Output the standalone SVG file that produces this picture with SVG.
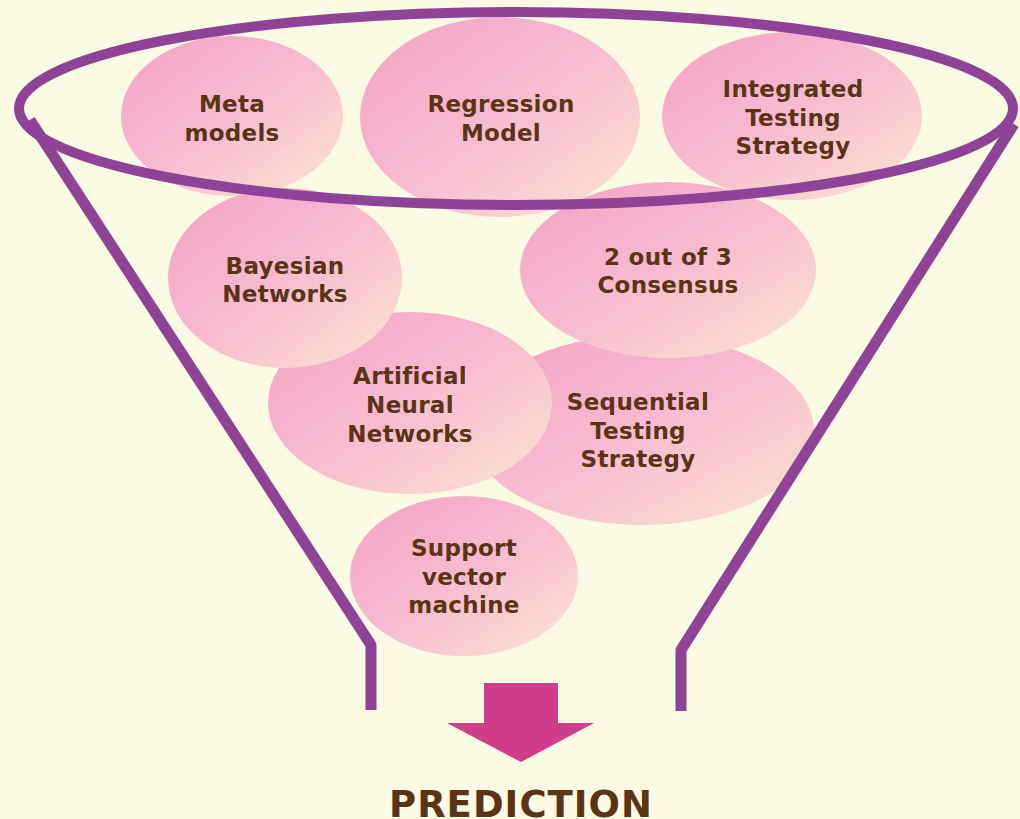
<svg xmlns="http://www.w3.org/2000/svg" width="1020" height="819" viewBox="0 0 1020 819">
<defs>
<linearGradient id="pk" x1="0" y1="0" x2="1" y2="1">
<stop offset="0" stop-color="#F3A3C3"/>
<stop offset="0.5" stop-color="#F8BBD2"/>
<stop offset="1" stop-color="#FDE6CF"/>
</linearGradient>
<style>
.b{fill:url(#pk);}
.t{font-family:"DejaVu Sans",Verdana,sans-serif;font-weight:bold;font-size:23px;fill:#5A3414;text-anchor:middle;letter-spacing:0.3px;}
.f{fill:none;stroke:#8E4397;stroke-width:10;stroke-linejoin:round;}
</style>
</defs>
<rect width="1020" height="819" fill="#FBFAE2"/>
<g id="meta-models"><ellipse class="b" cx="232" cy="116" rx="111" ry="80"/><text class="t" x="232" y="112">Meta</text><text class="t" x="232" y="141">models</text></g>
<g id="regression-model"><ellipse class="b" cx="500" cy="117" rx="140" ry="100"/><text class="t" x="501" y="112">Regression</text><text class="t" x="501" y="141">Model</text></g>
<g id="integrated-testing"><ellipse class="b" cx="792" cy="116" rx="130" ry="84"/><text class="t" x="793" y="97">Integrated</text><text class="t" x="793" y="126">Testing</text><text class="t" x="793" y="154">Strategy</text></g>
<g id="sequential-testing"><ellipse class="b" cx="642" cy="430" rx="172" ry="95"/><text class="t" x="638" y="410">Sequential</text><text class="t" x="638" y="439">Testing</text><text class="t" x="638" y="467">Strategy</text></g>
<g id="two-of-three"><ellipse class="b" cx="668" cy="270" rx="148" ry="88"/><text class="t" x="668" y="265">2 out of 3</text><text class="t" x="668" y="293">Consensus</text></g>
<g id="support-vector"><ellipse class="b" cx="464" cy="576" rx="114" ry="80"/><text class="t" x="464" y="556">Support</text><text class="t" x="464" y="585">vector</text><text class="t" x="464" y="613">machine</text></g>
<g id="ann"><ellipse class="b" cx="410" cy="403" rx="142" ry="91"/><text class="t" x="410" y="384">Artificial</text><text class="t" x="410" y="413">Neural</text><text class="t" x="410" y="442">Networks</text></g>
<g id="bayesian"><ellipse class="b" cx="285" cy="278" rx="117" ry="90"/><text class="t" x="285" y="274">Bayesian</text><text class="t" x="285" y="302">Networks</text></g>
<g id="connectors">
<polyline class="f" style="stroke-width:11" points="30,120 371,645 371,710"/>
<polyline class="f" style="stroke-width:11" points="1014,124 681,650 681,711"/>
<ellipse class="f" cx="516" cy="108.5" rx="497" ry="96.5"/>
<path d="M484,683 H558 V723 H594 L521,762 L447,723 H484 Z" fill="#D03D8A"/>
</g>
<text x="521" y="817" style="font-family:'DejaVu Sans',Verdana,sans-serif;font-weight:bold;font-size:37px;fill:#5A3414;text-anchor:middle;letter-spacing:1px">PREDICTION</text>
</svg>
